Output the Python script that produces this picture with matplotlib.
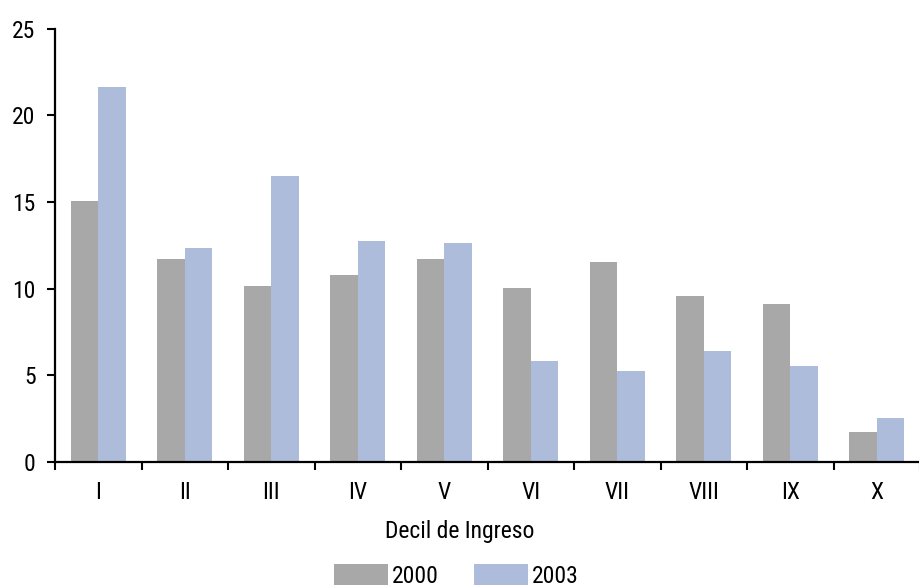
import matplotlib.pyplot as plt
import numpy as np

plt.rcParams['font.family'] = ['Roboto Condensed', 'DejaVu Sans']

deciles = ["I", "II", "III", "IV", "V", "VI", "VII", "VIII", "IX", "X"]
share_2000 = [15.05, 11.72, 10.14, 10.78, 11.72, 10.03, 11.53, 9.57, 9.10, 1.71]
share_2003 = [21.63, 12.32, 16.50, 12.74, 12.63, 5.81, 5.24, 6.39, 5.53, 2.52]

GRAY = "#a8a8a8"
BLUE = "#adbcdb"
FS = 17

fig = plt.figure(figsize=(9.2, 5.86), dpi=100)
ax = fig.add_axes([0.0598, 0.212, 0.9402, 0.739])

x = np.arange(len(deciles))
w = 0.32
ax.bar(x - w / 2, share_2000, width=w, color=GRAY, label="2000", zorder=2)
ax.bar(x + w / 2, share_2003, width=w, color=BLUE, label="2003", zorder=2)

ax.set_xlim(-0.5, len(deciles) - 0.5)
ax.set_ylim(0, 25)
ax.set_yticks(range(0, 26, 5))
ax.set_xticks(x)
ax.set_xticklabels(deciles)
# ticks sit between the decile groups
ax.set_xticks(np.arange(-0.5, len(deciles), 1.0), minor=True)

for side in ("top", "right"):
    ax.spines[side].set_visible(False)
ax.spines["left"].set_linewidth(1.6)
ax.spines["bottom"].set_linewidth(1.6)

ax.tick_params(axis="y", length=6, width=1.5, pad=8, labelsize=FS)
ax.tick_params(axis="x", which="major", length=0, pad=14, labelsize=FS)
ax.tick_params(axis="x", which="minor", length=6, width=1.5)

ax.set_xlabel("Decil de Ingreso", fontsize=FS)
ax.xaxis.set_label_coords(0.468, -0.135)

ax.legend(loc="center", bbox_to_anchor=(0.4957, 0.017),
          bbox_transform=fig.transFigure, ncol=2, frameon=False,
          fontsize=FS, handlelength=2.3, handleheight=0.95,
          handletextpad=0.15, columnspacing=1.5, borderpad=0)

fig.savefig("out.png", dpi=100)
